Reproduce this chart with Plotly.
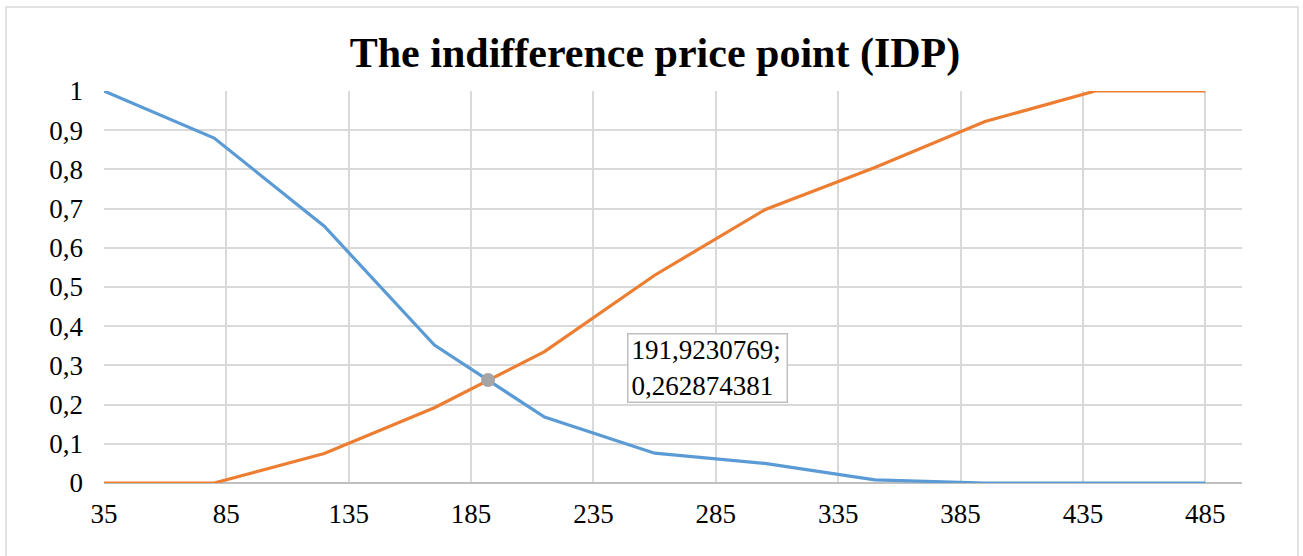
import plotly.graph_objects as go

# Data
prices = [35, 80, 125, 170, 215, 260, 305, 350, 395, 440, 485]
too_cheap = [1.0, 0.88, 0.655, 0.352, 0.168, 0.076, 0.05, 0.008, 0.0, 0.0, 0.0]
too_expensive = [0.0, 0.0, 0.075, 0.192, 0.335, 0.53, 0.697, 0.805, 0.922, 1.0, 1.0]
idp_x = [191.9230769]
idp_y = [0.262874381]
idp_label = "191,9230769;<br>0,262874381"

FONT = "Liberation Serif, Times New Roman, serif"

W, H = 1303, 556
L, R, T, B = 104, 61, 91, 73
PW = W - L - R
PH = H - T - B

fig = go.Figure()
fig.add_trace(go.Scatter(x=prices, y=too_cheap, mode="lines",
                         line=dict(color="#5B9BD5", width=3.2), showlegend=False))
fig.add_trace(go.Scatter(x=prices, y=too_expensive, mode="lines",
                         line=dict(color="#ED7D31", width=3.2), showlegend=False))
fig.add_trace(go.Scatter(x=idp_x, y=idp_y, mode="markers",
                         marker=dict(color="#A5A5A5", size=14), showlegend=False))

fig.add_annotation(x=281.4, y=0.293, xref="x", yref="y", text=idp_label,
                   showarrow=False, align="left", xanchor="center", yanchor="middle",
                   width=152, height=61, borderpad=3,
                   font=dict(family=FONT, size=27, color="#000000"),
                   bordercolor="#BFBFBF", borderwidth=1.5, bgcolor="white")

# outer chart border
fig.add_shape(type="rect", xref="paper", yref="paper",
              x0=(6 - L) / PW, x1=(1298 - L) / PW,
              y0=-0.3, y1=(H - B - 7) / PH,
              line=dict(color="#D9D9D9", width=1.5), fillcolor="rgba(0,0,0,0)", layer="below")

fig.update_layout(
    width=W, height=H,
    margin=dict(l=L, r=R, t=T, b=B),
    paper_bgcolor="white", plot_bgcolor="rgba(0,0,0,0)",
    separators=", ",
    title=dict(text="<b>The indifference price point (IDP)</b>",
               font=dict(family=FONT, size=42, color="#000000"),
               x=655 / W, xanchor="center", xref="container",
               y=1 - 52 / H, yanchor="middle", yref="container"),
    xaxis=dict(range=[35, 500], tick0=35, dtick=50, showgrid=True,
               gridcolor="#D9D9D9", gridwidth=1.5, zeroline=False,
               showline=False, ticks="", ticklabelstandoff=12,
               tickfont=dict(family=FONT, size=27, color="#000000")),
    yaxis=dict(range=[0, 1], dtick=0.1, showgrid=True,
               gridcolor="#D9D9D9", gridwidth=1.5, zeroline=True,
               zerolinecolor="#BFBFBF", zerolinewidth=1.5,
               showline=False, ticks="", ticklabelstandoff=20,
               tickfont=dict(family=FONT, size=27, color="#000000")),
)

fig.write_html("out.html", config={"displayModeBar": False},
               post_script="document.body.style.margin='0';document.body.style.overflow='hidden';")
